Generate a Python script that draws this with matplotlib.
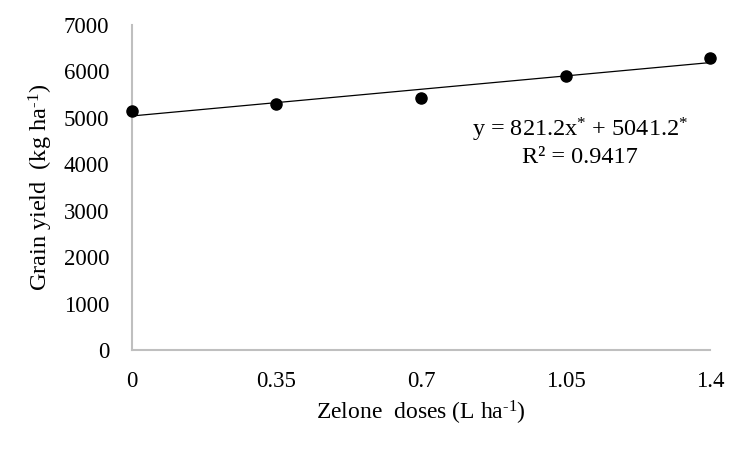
import matplotlib
matplotlib.use("Agg")
import matplotlib.pyplot as plt
import numpy as np

plt.rcParams['font.family'] = ['Liberation Serif', 'DejaVu Serif']
plt.rcParams['mathtext.fontset'] = 'custom'
plt.rcParams['mathtext.rm'] = 'Liberation Serif'
plt.rcParams['mathtext.it'] = 'Liberation Serif:italic'

# data
doses = np.array([0, 0.35, 0.7, 1.05, 1.4])
grain_yield = np.array([5140, 5300, 5430, 5900, 6280])
slope = 821.2
intercept = 5041.2
r2 = 0.9417
xticks = [0, 0.35, 0.7, 1.05, 1.4]
xtick_labels = ['0', '0.35', '0.7', '1.05', '1.4']
yticks = [0, 1000, 2000, 3000, 4000, 5000, 6000, 7000]

fig = plt.figure(figsize=(7.49, 4.55), dpi=100)
ax = fig.add_axes([0.1762, 0.2308, 0.948 - 0.1762, 0.945 - 0.2308])

xfit = np.array([doses[0], doses[-1]])
ax.plot(xfit, slope * xfit + intercept, color='black', lw=0.9, zorder=2)
ax.plot(doses, grain_yield, 'o', color='black', ms=8, zorder=3, clip_on=False)

ax.set_xlim(0, 1.4)
ax.set_ylim(0, 7000)
ax.set_xticks(xticks)
ax.set_xticklabels(xtick_labels)
ax.set_yticks(yticks)
ax.tick_params(length=0, labelsize=16.5)
ax.tick_params(axis='x', pad=15)
ax.tick_params(axis='y', pad=16.5)

for side in ['top', 'right']:
    ax.spines[side].set_visible(False)
for side in ['left', 'bottom']:
    ax.spines[side].set_color('#bfbfbf')
    ax.spines[side].set_linewidth(1.5)

ax.set_xlabel('Zelone  doses (L ha$^{\\text{-1}}$)', fontsize=17, labelpad=5)
ax.set_ylabel('Grain yield  (kg ha$^{\\text{-1}}$)', fontsize=17.5, labelpad=6)

ax.text(1.085, 4740, 'y = %.1fx$^{*}$ + %.1f$^{*}$' % (slope, intercept),
        ha='center', va='center', fontsize=17.5)
ax.text(1.085, 4140, 'R² = %.4f' % r2, ha='center', va='center', fontsize=17.5)

fig.savefig('out.png', dpi=100)
